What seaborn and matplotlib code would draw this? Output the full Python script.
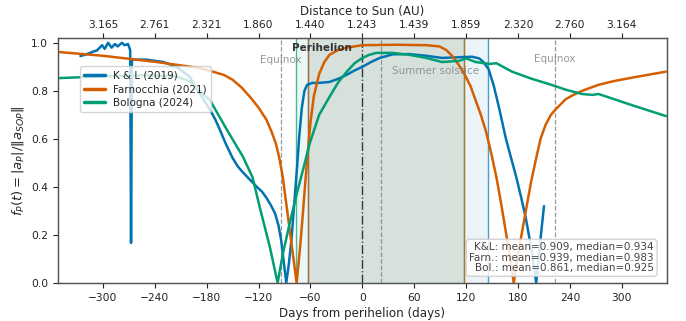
import numpy as np
import pandas as pd
import matplotlib
matplotlib.use("Agg")
import matplotlib.pyplot as plt
import seaborn as sns

# ---------------- data ----------------
kl_days = [-326, -321, -315, -310, -307, -301, -298, -294, -290, -286, -283, -278, -275, -271,
           -268.5, -267.5, -266.5, -250, -230, -215, -200, -190, -183, -176, -170, -165, -158,
           -150, -144, -138, -130, -122, -116, -111, -106, -101, -97, -94, -91, -88,
           -85, -82, -79, -76, -73, -70, -67, -64, -58, -50, -38, -28, -18, -9, 0, 10, 20, 35, 54,
           74, 92, 112, 127, 135, 140, 146, 152, 158, 166, 172, 178, 184, 189, 196, 201, 205, 210]
kl_vals = [0.945, 0.95, 0.958, 0.965, 0.968, 0.99, 0.975, 1.0, 0.98, 0.995, 0.985, 1.0, 0.99, 0.995,
           0.97, 0.167, 0.93, 0.93, 0.92, 0.90, 0.86, 0.80, 0.76, 0.72, 0.68, 0.64, 0.58,
           0.52, 0.485, 0.46, 0.43, 0.40, 0.38, 0.355, 0.325, 0.29, 0.24, 0.18, 0.09, 0.0,
           0.08, 0.18, 0.32, 0.46, 0.61, 0.73, 0.80, 0.825, 0.833, 0.833, 0.837, 0.85, 0.867, 0.885, 0.90, 0.92, 0.937, 0.952, 0.953,
           0.946, 0.937, 0.94, 0.942, 0.935, 0.92, 0.89, 0.82, 0.73, 0.60, 0.52, 0.44, 0.35, 0.27, 0.13, 0.0, 0.15, 0.32]

farn_days = [-352, -300, -238, -188, -173, -160, -150, -140, -130, -120, -111, -105, -100, -96, -92,
             -88, -84, -80, -76, -72, -69, -66, -63, -60, -56, -50, -44, -38, -28, -18, 0, 40, 74,
             89, 97, 104, 111, 118, 125, 131, 137, 143, 149, 155, 160, 166, 171, 175, 180, 189, 195,
             201, 206, 212, 218, 224, 235, 245, 254, 273, 290, 312, 351]
farn_vals = [0.962, 0.946, 0.92, 0.895, 0.88, 0.866, 0.846, 0.815, 0.775, 0.73, 0.68, 0.63, 0.58, 0.52, 0.44,
             0.33, 0.22, 0.11, 0.0, 0.15, 0.28, 0.42, 0.55, 0.67, 0.78, 0.87, 0.92, 0.95, 0.97, 0.98, 0.99, 0.992, 0.99,
             0.985, 0.97, 0.945, 0.91, 0.87, 0.82, 0.76, 0.70, 0.63, 0.54, 0.44, 0.34, 0.21, 0.10, 0.0, 0.12, 0.30, 0.42,
             0.52, 0.60, 0.66, 0.70, 0.725, 0.765, 0.785, 0.80, 0.825, 0.84, 0.855, 0.88]

bol_days = [-352, -300, -250, -215, -200, -188, -176, -157, -138, -127, -119, -107, -98, -92, -84, -76, -68,
            -61, -50, -38, -28, -18, -9, 0, 8, 16, 35, 54, 74, 92, 112, 120, 131, 147, 155, 173, 196, 216, 235, 254,
            266, 273, 312, 351]
bol_vals = [0.853, 0.86, 0.865, 0.86, 0.84, 0.80, 0.76, 0.64, 0.525, 0.44, 0.32, 0.15, 0.0, 0.12, 0.25, 0.37, 0.48,
            0.58, 0.70, 0.775, 0.835, 0.88, 0.915, 0.937, 0.95, 0.958, 0.958, 0.95, 0.937, 0.92, 0.925, 0.935, 0.92, 0.912, 0.915, 0.88, 0.85, 0.828, 0.805, 0.787,
            0.783, 0.787, 0.74, 0.695]

series_names = ["K & L (2019)", "Farnocchia (2021)", "Bologna (2024)"]

tick_days = [-300, -240, -180, -120, -60, 0, 60, 120, 180, 240, 300]
dist_labels = ["3.165", "2.761", "2.321", "1.860", "1.440", "1.243", "1.439", "1.859", "2.320", "2.760", "3.164"]

# windows (start, end) per series
kl_window = (-63, 145.5)
farn_window = (-63, 118)
bol_window = (-77, 118)

equinox_days = [-94.6, 222.7]
solstice_day = 22

stats_lines = ["K&L: mean=0.909, median=0.934",
               "Farn.: mean=0.939, median=0.983",
               "Bol.: mean=0.861, median=0.925"]

# ---------------- style ----------------
sns.set_style("ticks")
plt.rcParams['font.family'] = ['DejaVu Sans']
pal = sns.color_palette("colorblind")
c_kl, c_farn, c_bol = pal[0], pal[3], pal[2]

fig = plt.figure(figsize=(6.86, 3.21), dpi=100)
ax = fig.add_axes([0.0845, 0.1184, 0.8875, 0.7632])

# windows
for (a, b), c in [(bol_window, c_bol), (farn_window, c_farn), (kl_window, c_kl)]:
    ax.axvspan(a, b, color=c, alpha=0.08, lw=0, zorder=0)
for (a, b), c in [(kl_window, c_kl), (bol_window, c_bol), (farn_window, c_farn)]:
    ax.axvline(a, color=c, lw=1.0, alpha=0.7, zorder=1)
    ax.axvline(b, color=c, lw=1.0, alpha=0.7, zorder=1)

# reference lines
for d in equinox_days:
    ax.axvline(d, color="gray", ls="--", lw=0.9, alpha=0.8, zorder=1)
ax.axvline(solstice_day, color="gray", ls="--", lw=0.9, alpha=0.8, zorder=1)
ax.axvline(0, color="black", ls="-.", lw=1.0, alpha=0.75, zorder=1)

df_kl = pd.DataFrame({"day": kl_days, "f": kl_vals})
df_fa = pd.DataFrame({"day": farn_days, "f": farn_vals})
df_bo = pd.DataFrame({"day": bol_days, "f": bol_vals})

sns.lineplot(data=df_kl, x="day", y="f", ax=ax, color=c_kl, lw=1.8, sort=False, estimator=None,
             label=series_names[0], zorder=3)
sns.lineplot(data=df_fa, x="day", y="f", ax=ax, color=c_farn, lw=1.8, sort=False, estimator=None,
             label=series_names[1], zorder=3)
sns.lineplot(data=df_bo, x="day", y="f", ax=ax, color=c_bol, lw=1.8, sort=False, estimator=None,
             label=series_names[2], zorder=3)

ax.set_xlim(-352, 352)
ax.set_ylim(0, 1.02)
ax.set_xticks(tick_days)
ax.set_yticks([0.0, 0.2, 0.4, 0.6, 0.8, 1.0])
ax.tick_params(labelsize=7.7, length=3.5, width=0.8, colors="#222222")
ax.set_xlabel("Days from perihelion (days)", fontsize=8.6, labelpad=3)
ax.set_ylabel(r"$f_P(t) = |a_P|/\|a_{SOP}\|$", fontsize=9.5, labelpad=4)
for s in ax.spines.values():
    s.set_color("#555555")
    s.set_linewidth(0.9)

# texts
txt_kw = dict(color="gray", alpha=0.8, fontsize=7.5)
ax.text(equinox_days[0], 0.93, "Equinox", ha="center", va="center", **txt_kw)
ax.text(equinox_days[1], 0.933, "Equinox", ha="center", va="center", **txt_kw)
ax.text(34, 0.883, "Summer solstice", ha="left", va="center", **txt_kw)
ax.text(-47, 0.977, "Perihelion", ha="center", va="center", fontsize=7.5,
        fontweight="bold", color="#333333")

ax.text(0.979, 0.04, "\n".join(stats_lines), transform=ax.transAxes, ha="right", va="bottom",
        fontsize=7.5, color="#444444", linespacing=1.05,
        bbox=dict(boxstyle="round,pad=0.3", facecolor="white", edgecolor="#cccccc", alpha=0.85),
        zorder=5)

leg = ax.legend(loc="upper left", bbox_to_anchor=(0.027, 0.905), fontsize=7.5, frameon=True,
                handlelength=2.0, borderpad=0.4, labelspacing=0.35, handletextpad=0.8)
for h in leg.get_lines():
    h.set_linewidth(2.5)

# top axis: distance
ax2 = ax.twiny()
ax2.set_xlim(ax.get_xlim())
ax2.set_xticks(tick_days)
ax2.set_xticklabels(dist_labels)
ax2.tick_params(labelsize=7.7, length=3.5, width=0.8, colors="#222222", pad=2)
ax2.set_xlabel("Distance to Sun (AU)", fontsize=8.6, labelpad=4)
for s in ax2.spines.values():
    s.set_color("#555555")
    s.set_linewidth(0.9)

fig.savefig("out.png", dpi=100)
